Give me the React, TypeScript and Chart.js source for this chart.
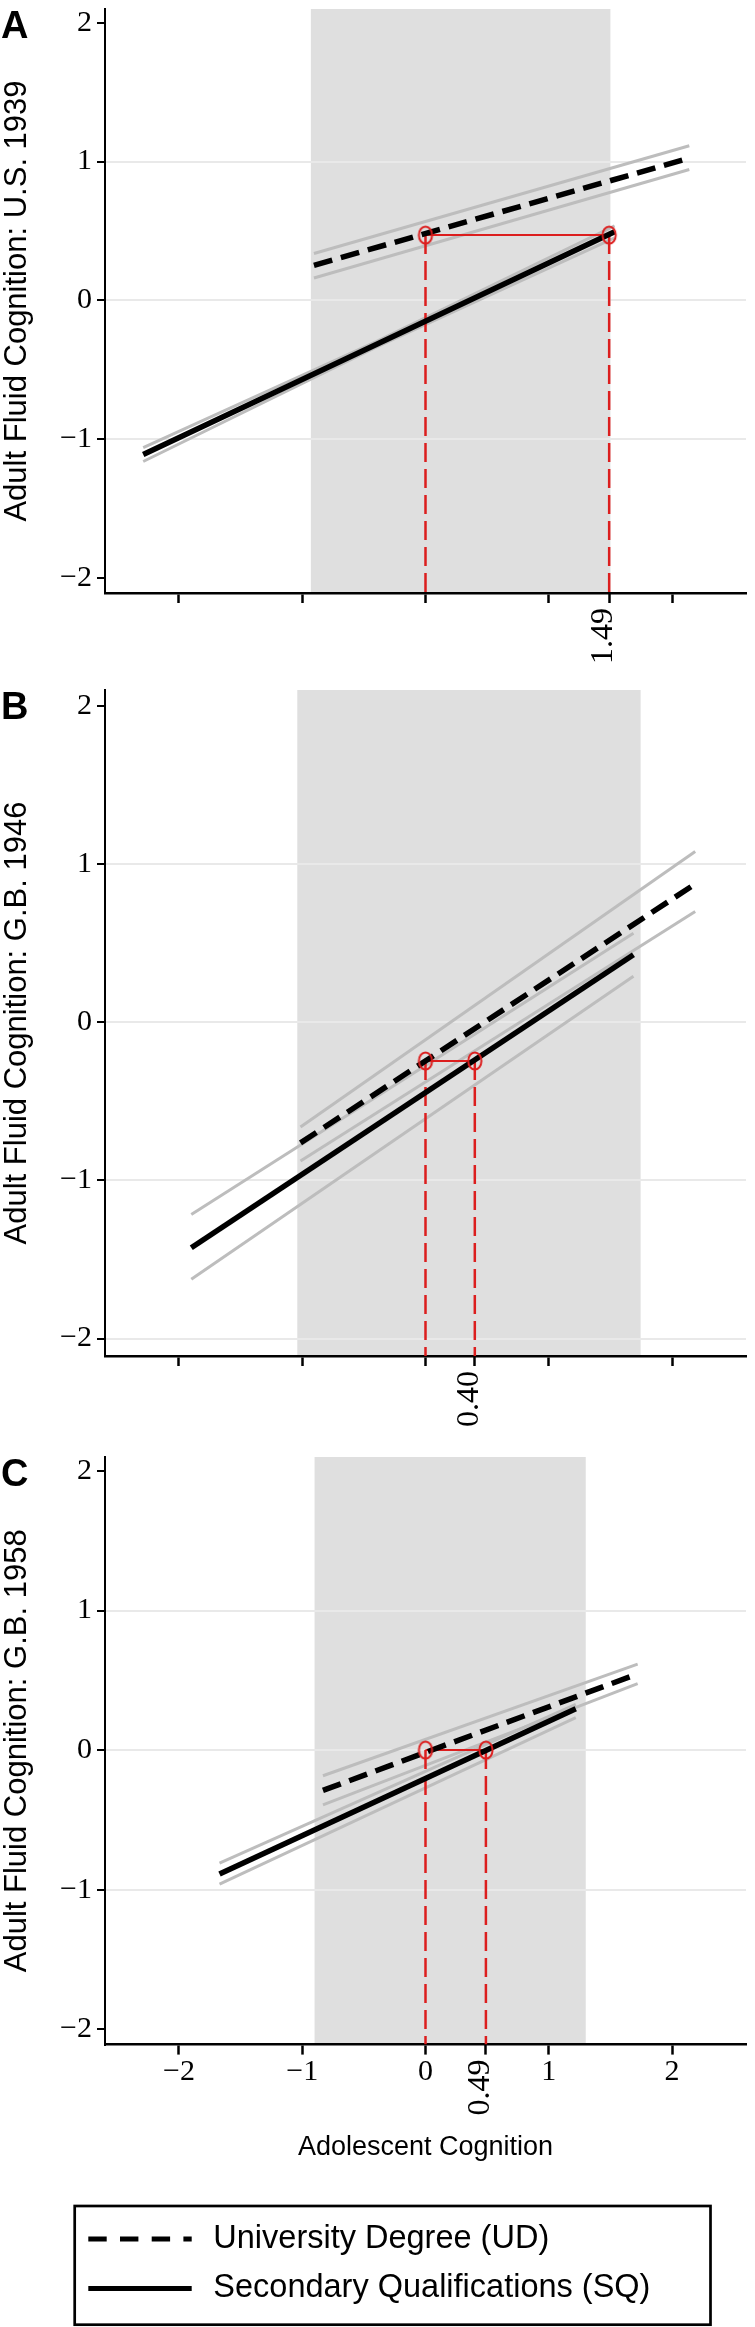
import React, { useEffect, useRef } from 'react';
import { Chart, registerables } from 'chart.js';

Chart.register(...registerables);

// ---------------- data ----------------
const X_TICKS = [-2, -1, 0, 1, 2];
const Y_TICKS = [-2, -1, 0, 1, 2];
const X_LIMITS = [-2.6, 2.6];
const Y_LIMITS = [-2.11, 2.1];
const SERIES_LABELS = ['University Degree (UD)', 'Secondary Qualifications (SQ)'];
const X_TITLE = 'Adolescent Cognition';
const PANEL_LETTERS = ['A', 'B', 'C'];
const Y_TITLES = [
  'Adult Fluid Cognition: U.S. 1939',
  'Adult Fluid Cognition: G.B. 1946',
  'Adult Fluid Cognition: G.B. 1958',
];

// Panel A – U.S. 1939
const A_BAND = [-0.93, 1.5];
const A_UD_X = [-0.905, 2.14];
const A_UD_MEAN = [0.252, 1.025];
const A_UD_UPPER = [0.337, 1.114];
const A_UD_LOWER = [0.161, 0.943];
const A_SQ_X = [-2.29, -0.4, 1.534];
const A_SQ_MEAN = [-1.112, -0.318, 0.494];
const A_SQ_UPPER = [-1.062, -0.298, 0.536];
const A_SQ_LOWER = [-1.162, -0.338, 0.45];
const A_MATCH_X = [0, 1.49];
const A_MATCH_Y = [0.47, 0.47];
const A_GRID = [-1, 0, 1];

// Panel B – G.B. 1946
const B_BAND = [-1.04, 1.745];
const B_UD_X = [-1.014, 2.188];
const B_UD_MEAN = [-0.763, 0.874];
const B_UD_UPPER = [-0.662, 1.079];
const B_UD_LOWER = [-0.877, 0.7];
const B_SQ_X = [-1.9, 1.687];
const B_SQ_MEAN = [-1.426, 0.426];
const B_SQ_UPPER = [-1.215, 0.562];
const B_SQ_LOWER = [-1.625, 0.29];
const B_MATCH_X = [0, 0.4];
const B_MATCH_Y = [-0.245, -0.245];
const B_GRID = [-2, -1, 0, 1];

// Panel C – G.B. 1958
const C_BAND = [-0.9, 1.3];
const C_UD_X = [-0.832, 1.721];
const C_UD_MEAN = [-0.289, 0.546];
const C_UD_UPPER = [-0.184, 0.616];
const C_UD_LOWER = [-0.393, 0.477];
const C_SQ_X = [-1.671, 1.219];
const C_SQ_MEAN = [-0.887, 0.296];
const C_SQ_UPPER = [-0.81, 0.327];
const C_SQ_LOWER = [-0.96, 0.233];
const C_MATCH_X = [0, 0.49];
const C_MATCH_Y = [0, 0];
const C_GRID = [-1, 0, 1];

// ---------------- styles ----------------
const SERIF = "'Liberation Serif', 'Times New Roman', Times, serif";
const SANS = "'Liberation Sans', Arial, Helvetica, sans-serif";
const BAND_COLOR = '#dfdfdf';
const GRID_COLOR = '#e9e9e9';
const CI_COLOR = '#bdbdbd';
const RED = '#dc1e1e';

type PanelDef = {
  letter: string;
  yTitle: string;
  band: number[];
  udX: number[]; udMean: number[]; udUpper: number[]; udLower: number[];
  sqX: number[]; sqMean: number[]; sqUpper: number[]; sqLower: number[];
  matchX: number[]; matchY: number[];
  grid: number[];
  last: boolean;
  top: number; height: number; chartTop: number; chartBottom: number;
};

const PANELS: PanelDef[] = [
  {
    letter: PANEL_LETTERS[0], yTitle: Y_TITLES[0], band: A_BAND,
    udX: A_UD_X, udMean: A_UD_MEAN, udUpper: A_UD_UPPER, udLower: A_UD_LOWER,
    sqX: A_SQ_X, sqMean: A_SQ_MEAN, sqUpper: A_SQ_UPPER, sqLower: A_SQ_LOWER,
    matchX: A_MATCH_X, matchY: A_MATCH_Y, grid: A_GRID, last: false,
    top: 0, height: 680, chartTop: 7, chartBottom: 593,
  },
  {
    letter: PANEL_LETTERS[1], yTitle: Y_TITLES[1], band: B_BAND,
    udX: B_UD_X, udMean: B_UD_MEAN, udUpper: B_UD_UPPER, udLower: B_UD_LOWER,
    sqX: B_SQ_X, sqMean: B_SQ_MEAN, sqUpper: B_SQ_UPPER, sqLower: B_SQ_LOWER,
    matchX: B_MATCH_X, matchY: B_MATCH_Y, grid: B_GRID, last: false,
    top: 640, height: 800, chartTop: 50, chartBottom: 716,
  },
  {
    letter: PANEL_LETTERS[2], yTitle: Y_TITLES[2], band: C_BAND,
    udX: C_UD_X, udMean: C_UD_MEAN, udUpper: C_UD_UPPER, udLower: C_UD_LOWER,
    sqX: C_SQ_X, sqMean: C_SQ_MEAN, sqUpper: C_SQ_UPPER, sqLower: C_SQ_LOWER,
    matchX: C_MATCH_X, matchY: C_MATCH_Y, grid: C_GRID, last: true,
    top: 1420, height: 907, chartTop: 37, chartBottom: 624.6,
  },
];

const X_AXIS_HEIGHT_LAST = 116;

function fmtNum(v: number): string {
  return v < 0 ? '\u2212' + String(Math.abs(v)) : String(v);
}

function pts(xs: number[], ys: number[]) {
  return xs.map((x, i) => ({ x, y: ys[i] }));
}

function serifFont(size: number) {
  return { family: SERIF, size, lineHeight: 1, style: 'normal' as const };
}

// ---------------- plugins ----------------
const bandPlugin = {
  id: 'band',
  afterLayout(chart: any) {
    // let the zero-height "matched value" axis draw its rotated label below the axis line
    const s = chart.scales.xs;
    if (s) s.bottom = chart.height;
  },
  beforeDraw(chart: any, _args: any, opts: any) {
    const range = opts && opts.range;
    if (!range) return;
    const { ctx, chartArea } = chart;
    const xs = chart.scales.x;
    const x0 = xs.getPixelForValue(range[0]);
    const x1 = xs.getPixelForValue(range[1]);
    ctx.save();
    ctx.fillStyle = BAND_COLOR;
    ctx.fillRect(x0, chartArea.top, x1 - x0, chartArea.bottom - chartArea.top);
    ctx.restore();
  },
};

const letterPlugin = {
  id: 'panelLetter',
  afterDraw(chart: any, _args: any, opts: any) {
    if (!opts || !opts.text) return;
    const { ctx, chartArea } = chart;
    ctx.save();
    ctx.font = `bold 38px ${SANS}`;
    ctx.fillStyle = '#000';
    ctx.textAlign = 'left';
    ctx.textBaseline = 'alphabetic';
    ctx.fillText(opts.text, 1, chartArea.top + 29);
    ctx.restore();
  },
};

const boxLegendPlugin = {
  id: 'boxLegend',
  afterDraw(chart: any, _args: any, opts: any) {
    if (!opts || !opts.show) return;
    const ctx = chart.ctx;
    const top = opts.top;
    const items = chart.data.datasets.filter((d: any) => SERIES_LABELS.includes(d.label));
    ctx.save();
    ctx.strokeStyle = '#000';
    ctx.lineWidth = 2.7;
    ctx.setLineDash([]);
    ctx.strokeRect(74.7, top, 635.8, 118.7);
    items.forEach((d: any, i: number) => {
      const y = top + 33 + i * 49.5;
      ctx.beginPath();
      ctx.lineWidth = 5;
      ctx.strokeStyle = '#000';
      ctx.setLineDash(d.borderDash && d.borderDash.length ? [18.4, 13.3] : []);
      ctx.moveTo(88.3, y);
      ctx.lineTo(191.7, y);
      ctx.stroke();
      ctx.setLineDash([]);
      ctx.font = `32.5px ${SANS}`;
      ctx.fillStyle = '#000';
      ctx.textAlign = 'left';
      ctx.textBaseline = 'middle';
      ctx.fillText(d.label, 213.3, y);
    });
    ctx.restore();
  },
};

function makeEllipse(): HTMLCanvasElement {
  const c = document.createElement('canvas');
  c.width = 18;
  c.height = 22;
  const g = c.getContext('2d')!;
  g.strokeStyle = RED;
  g.lineWidth = 2;
  g.beginPath();
  g.ellipse(9, 11, 6.6, 8.6, 0, 0, Math.PI * 2);
  g.stroke();
  return c;
}

function buildConfig(p: PanelDef, ellipse: HTMLCanvasElement): any {
  const line = (label: string, data: any[], color: string, width: number, order: number, dash: number[] = []) => ({
    label,
    data,
    showLine: true,
    borderColor: color,
    backgroundColor: color,
    borderWidth: width,
    borderDash: dash,
    borderCapStyle: 'butt',
    pointRadius: 0,
    pointHoverRadius: 0,
    fill: false,
    tension: 0,
    order,
  });

  const datasets: any[] = [
    line('UD upper CI', pts(p.udX, p.udUpper), CI_COLOR, 3, 6),
    line('UD lower CI', pts(p.udX, p.udLower), CI_COLOR, 3, 6),
    line('SQ upper CI', pts(p.sqX, p.sqUpper), CI_COLOR, 3, 6),
    line('SQ lower CI', pts(p.sqX, p.sqLower), CI_COLOR, 3, 6),
    line('UD drop', [{ x: p.matchX[0], y: p.matchY[0] }, { x: p.matchX[0], y: Y_LIMITS[0] }], RED, 2.5, 5, [19, 7]),
    line('SQ drop', [{ x: p.matchX[1], y: p.matchY[1] }, { x: p.matchX[1], y: Y_LIMITS[0] }], RED, 2.5, 5, [19, 7]),
    line('match', pts(p.matchX, p.matchY), RED, 2, 4),
    line(SERIES_LABELS[0], pts(p.udX, p.udMean), '#000', 5.5, 2, [19, 9]),
    line(SERIES_LABELS[1], pts(p.sqX, p.sqMean), '#000', 5.5, 2),
    {
      label: 'matched points',
      data: pts(p.matchX, p.matchY),
      showLine: false,
      pointStyle: ellipse,
      pointRadius: 8,
      pointHoverRadius: 8,
      order: 1,
    },
  ];

  const xAxisHeight = p.last ? X_AXIS_HEIGHT_LAST : 0;
  const padBottom = p.height - p.chartBottom - xAxisHeight;

  return {
    type: 'scatter',
    data: { datasets },
    options: {
      animation: false,
      responsive: false,
      devicePixelRatio: 1,
      events: [],
      layout: { padding: { top: p.chartTop, bottom: padBottom, left: 0, right: 0 } },
      plugins: {
        legend: { display: false },
        tooltip: { enabled: false },
        band: { range: p.band },
        panelLetter: { text: p.letter },
        boxLegend: { show: p.last, top: 786 },
      },
      scales: {
        x: {
          type: 'linear',
          position: 'bottom',
          weight: 1,
          min: X_LIMITS[0],
          max: X_LIMITS[1],
          afterBuildTicks: (s: any) => { s.ticks = X_TICKS.map((v) => ({ value: v })); },
          afterFit: (s: any) => { s.height = xAxisHeight; s.paddingLeft = 0; s.paddingRight = 0; },
          ticks: {
            font: serifFont(30),
            color: '#000',
            padding: 3,
            minRotation: 0,
            maxRotation: 0,
            autoSkip: false,
            callback: (v: any) => (p.last ? fmtNum(Number(v)) : ''),
          },
          grid: { drawOnChartArea: false, tickLength: 10, tickWidth: 2.5, tickColor: '#000' },
          border: { display: true, color: '#000', width: 2.5 },
          title: {
            display: p.last,
            text: X_TITLE,
            color: '#000',
            font: { family: SANS, size: 27, lineHeight: 1 },
            padding: { top: 0, bottom: 0 },
          },
        },
        xs: {
          type: 'linear',
          position: 'bottom',
          weight: 0,
          min: X_LIMITS[0],
          max: X_LIMITS[1],
          afterBuildTicks: (s: any) => { s.ticks = [{ value: p.matchX[1] }]; },
          afterFit: (s: any) => { s.height = 0; s.paddingLeft = 0; s.paddingRight = 0; },
          ticks: {
            font: serifFont(32),
            color: '#000',
            padding: 5,
            minRotation: 90,
            maxRotation: 90,
            labelOffset: -5.5,
            autoSkip: false,
            callback: (v: any) => Number(v).toFixed(2),
          },
          grid: { drawOnChartArea: false, tickLength: 10, tickWidth: 2.5, tickColor: '#000' },
          border: { display: false },
        },
        y: {
          type: 'linear',
          position: 'left',
          min: Y_LIMITS[0],
          max: Y_LIMITS[1],
          afterBuildTicks: (s: any) => { s.ticks = Y_TICKS.map((v) => ({ value: v })); },
          afterFit: (s: any) => { s.width = 105; s.paddingTop = 0; s.paddingBottom = 0; },
          ticks: {
            font: serifFont(30),
            color: '#000',
            padding: 5,
            autoSkip: false,
            callback: (v: any) => fmtNum(Number(v)),
          },
          grid: {
            color: (ctx: any) => (ctx.tick && p.grid.includes(ctx.tick.value) ? GRID_COLOR : 'rgba(0,0,0,0)'),
            lineWidth: 2,
            tickColor: '#000',
            tickLength: 8,
            tickWidth: 2,
          },
          border: { display: true, color: '#000', width: 2 },
          title: {
            display: true,
            text: p.yTitle,
            color: '#000',
            font: { family: SANS, size: 31, lineHeight: 1 },
            padding: { top: 1.5, bottom: 0 },
          },
        },
      },
    },
    plugins: [bandPlugin, letterPlugin, boxLegendPlugin],
  };
}

function Panel({ def }: { def: PanelDef }) {
  const ref = useRef<HTMLCanvasElement | null>(null);
  useEffect(() => {
    if (!ref.current) return;
    const chart = new Chart(ref.current, buildConfig(def, makeEllipse()));
    return () => chart.destroy();
  }, [def]);
  return (
    <canvas
      ref={ref}
      width={755}
      height={def.height}
      style={{ position: 'absolute', left: 0, top: def.top, display: 'block' }}
    />
  );
}

export default function App() {
  return (
    <div style={{ position: 'absolute', left: 0, top: 0, width: 755, height: 2327, background: '#fff', overflow: 'hidden' }}>
      {PANELS.map((p) => (
        <Panel key={p.letter} def={p} />
      ))}
    </div>
  );
}
